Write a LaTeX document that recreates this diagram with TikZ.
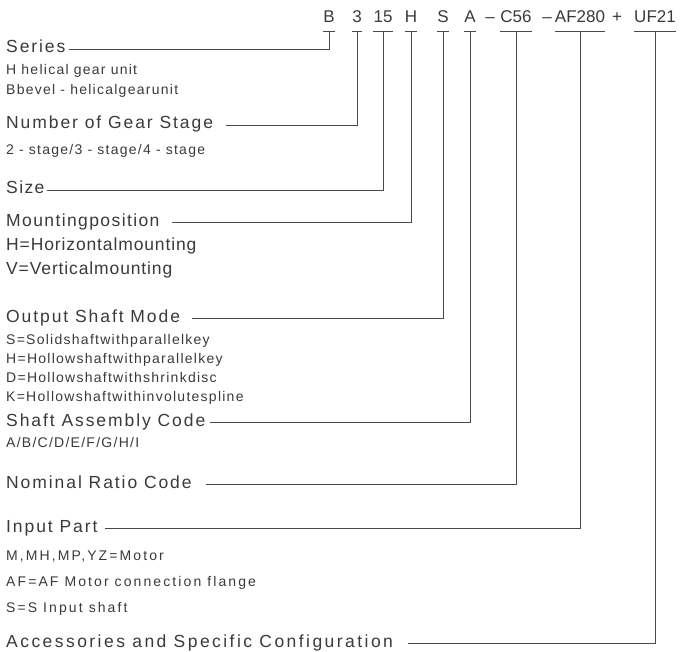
\documentclass[tikz,border=0pt]{standalone}
\usepackage{fontspec}
\setmainfont{Liberation Sans}
\usetikzlibrary{positioning}
\definecolor{inkgray}{HTML}{3A3A3A}
\definecolor{leadgray}{HTML}{4A4A4A}
\newfontfamily\headfont[LetterSpace=11]{Liberation Sans}
\newfontfamily\tightfont[LetterSpace=8]{Liberation Sans}
\newfontfamily\widefont[LetterSpace=14]{Liberation Sans}
\newfontfamily\mountfont[LetterSpace=5]{Liberation Sans}
\newfontfamily\subfont[LetterSpace=9]{Liberation Sans}
\newfontfamily\inputfont[LetterSpace=15]{Liberation Sans}
\tikzset{
  code/.style={anchor=base, inner xsep=0pt, inner ysep=0pt, text depth=0pt,
    font=\fontsize{17}{17}\selectfont, text=inkgray},
  codeline/.style={leadgray, line width=0.9pt},
  head/.style={anchor=west, inner xsep=0pt, inner ysep=0pt, text height=8pt, text depth=0pt,
    font=\headfont\fontsize{17.5}{17.5}\selectfont, text=inkgray},
  headtight/.style={head, font=\tightfont\fontsize{17.5}{17.5}\selectfont},
  headwide/.style={head, font=\widefont\fontsize{17.5}{17.5}\selectfont},
  mount/.style={head, font=\mountfont\fontsize{17.5}{17.5}\selectfont},
  sub/.style={anchor=base west, inner sep=0pt,
    font=\subfont\fontsize{14}{14}\selectfont, text=inkgray},
  inputsub/.style={sub, font=\inputfont\fontsize{14}{14}\selectfont},
  lead/.style={leadgray, line width=0.9pt},
}
\begin{document}
\begin{tikzpicture}[x=1pt,y=-1pt]
\useasboundingbox (0,0) rectangle (687,652);
% type code
\node[code] (cB) at (329,23) {B};
\node[code] (c3) at (357,23) {3};
\node[code] (c15) at (383,23) {15};
\node[code] (cH) at (411,23) {H};
\node[code] (cS) at (443,23) {S};
\node[code] (cA) at (470,23) {A};
\node[code] (d1) at (490,23) {\textendash};
\node[code] (cC) at (516,23) {C56};
\node[code] (d2) at (547,23) {\textendash};
\node[code] (cAF) at (580,23) {AF280};
\node[code] (plus) at (617,23) {+};
\node[code] (cUF) at (655,23) {UF21};
% underlines
\foreach \n in {cB,c3,c15,cH,cS,cA,cC,cAF,cUF}
  \draw[codeline] ([yshift=-8pt]\n.south west) -- ([yshift=-8pt]\n.south east)
    coordinate[pos=0.5] (\n-u);
% labels
\node[head] (series) at (6,49) {Series};
\node[sub] (series1) at (6,75) {H helical gear unit};
\node[sub] (series2) at (6,95) {Bbevel - helicalgearunit};
\node[head] (stage) at (6,125) {Number of Gear Stage};
\node[sub] (stage1) at (6,155) {2 - stage/3 - stage/4 - stage};
\node[headtight] (size) at (6,190) {Size};
\node[headtight] (mount) at (6,222) {Mountingposition};
\node[mount] (mount1) at (6,246) {H=Horizontalmounting};
\node[mount] (mount2) at (6,270) {V=Verticalmounting};
\node[head] (shaft) at (6,318) {Output Shaft Mode};
\node[sub] (shaft1) at (6,344) {S=Solidshaftwithparallelkey};
\node[sub] (shaft2) at (6,363) {H=Hollowshaftwithparallelkey};
\node[sub] (shaft3) at (6,382) {D=Hollowshaftwithshrinkdisc};
\node[sub] (shaft4) at (6,401) {K=Hollowshaftwithinvolutespline};
\node[head] (assy) at (6,422) {Shaft Assembly Code};
\node[sub] (assy1) at (6,447) {A/B/C/D/E/F/G/H/I};
\node[head] (ratio) at (6,484) {Nominal Ratio Code};
\node[head] (input) at (6,528) {Input Part};
\node[inputsub] (input1) at (6,560) {M,MH,MP,YZ=Motor};
\node[inputsub] (input2) at (6,586) {AF=AF Motor connection flange};
\node[inputsub] (input3) at (6,612) {S=S Input shaft};
\node[headwide] (acc) at (6,643) {Accessories and Specific Configuration};
% leaders
\draw[lead] ([xshift=3pt]series.east) -| (cB-u);
\draw[lead] ([xshift=13pt]stage.east) -| (c3-u);
\draw[lead] ([xshift=2pt]size.east) -| (c15-u);
\draw[lead] ([xshift=12pt]mount.east) -| (cH-u);
\draw[lead] ([xshift=12pt]shaft.east) -| (cS-u);
\draw[lead] ([xshift=5pt]assy.east) -| (cA-u);
\draw[lead] ([xshift=14pt]ratio.east) -| (cC-u);
\draw[lead] ([xshift=7pt]input.east) -| (cAF-u);
\draw[lead] ([xshift=15pt]acc.east) -| (cUF-u);
\end{tikzpicture}
\end{document}
